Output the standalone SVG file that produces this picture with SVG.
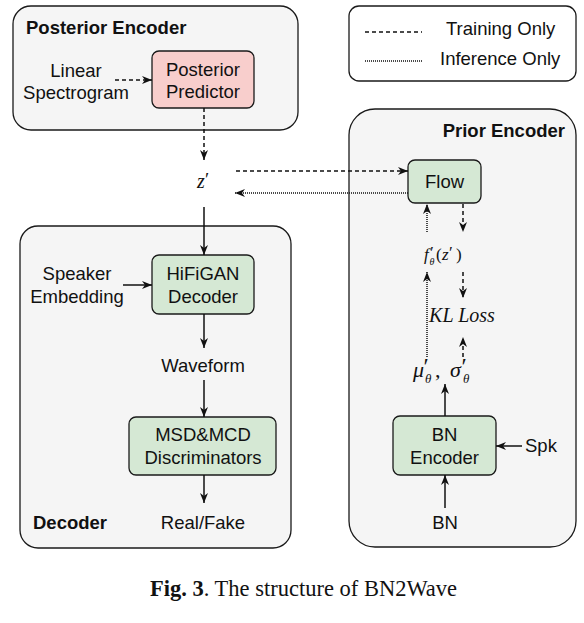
<svg xmlns="http://www.w3.org/2000/svg" width="584" height="623" viewBox="0 0 584 623">
<style>
.cont{fill:#f5f5f5;stroke:#1a1a1a;stroke-width:1.3}
.green{fill:#d5e8d4;stroke:#1a1a1a;stroke-width:1.3}
.pink{fill:#f8cecc;stroke:#1a1a1a;stroke-width:1.3}
.t{font-family:"Liberation Sans",Arial,sans-serif;font-size:18.5px;fill:#111}
.b{font-family:"Liberation Sans",Arial,sans-serif;font-size:18.5px;font-weight:bold;fill:#111}
.m{font-family:"Liberation Serif","Times New Roman",serif;font-style:italic;fill:#111}
.n{font-style:normal}
.c{text-anchor:middle}
.solid{stroke:#111;stroke-width:1.5;fill:none}
.dash{stroke:#111;stroke-width:1.5;fill:none;stroke-dasharray:4 3}
.dot{stroke:#111;stroke-width:1.5;fill:none;stroke-dasharray:1 1}
</style>
<defs>
<marker id="ah" viewBox="0 0 10 10" refX="10" refY="5" markerWidth="10" markerHeight="10" markerUnits="userSpaceOnUse" orient="auto">
<path d="M0,1 L10,5 L0,9 L3,5 Z" fill="#111"/>
</marker>
</defs>

<g id="posterior-encoder">
<rect class="cont" x="13" y="6" width="285" height="124" rx="18"/>
<text class="b" x="26" y="34">Posterior Encoder</text>
</g>
<g id="legend">
<rect x="349" y="6" width="227" height="75" rx="10" fill="#fff" stroke="#1a1a1a" stroke-width="1.3"/>
<line class="dash" x1="365" y1="32" x2="422" y2="32"/>
<line class="dot" x1="365" y1="61" x2="423" y2="61" stroke-width="1.2"/>
<text class="t" x="446" y="35">Training Only</text>
<text class="t" x="440" y="65">Inference Only</text>
</g>
<g id="prior-encoder">
<rect class="cont" x="349" y="109" width="227" height="438" rx="26"/>
<text class="b" x="565" y="137" text-anchor="end">Prior Encoder</text>
</g>
<g id="decoder">
<rect class="cont" x="20" y="226" width="271" height="322" rx="18"/>
<text class="b" x="33" y="529">Decoder</text>
</g>

<g id="linear-spectrogram">
<text class="t c" x="76" y="77">Linear</text>
<text class="t c" x="76" y="99">Spectrogram</text>
</g>
<g id="posterior-predictor">
<rect class="pink" x="152" y="51" width="102" height="57" rx="7"/>
<text class="t c" x="203" y="76">Posterior</text>
<text class="t c" x="203" y="98">Predictor</text>
</g>
<g id="z-prime">
<text class="m" x="197" y="188" font-size="20">z<tspan class="n" x="205" y="186" font-size="19">′</tspan></text>
</g>
<g id="flow">
<rect class="green" x="408" y="160" width="73" height="43" rx="7"/>
<text class="t c" x="444.5" y="188">Flow</text>
</g>
<g id="f-theta">
<text class="m" x="424" y="260" font-size="17">f<tspan class="n" x="430" y="258" font-size="17">′</tspan><tspan x="429.5" y="265" font-size="10">θ</tspan><tspan class="n" x="436" y="260">(</tspan><tspan x="442" y="260">z</tspan><tspan class="n" x="449" y="258">′</tspan><tspan class="n" x="456" y="260">)</tspan></text>
</g>
<g id="kl-loss">
<text class="m c" x="462" y="322" font-size="20">KL Loss</text>
</g>
<g id="mu-sigma">
<text class="m" x="413" y="377" font-size="22">μ<tspan class="n" x="423.5" y="374" font-size="24">′</tspan><tspan x="425" y="383" font-size="13">θ</tspan><tspan class="n" x="435" y="377">,</tspan><tspan x="450" y="377">σ</tspan><tspan class="n" x="461.5" y="374" font-size="24">′</tspan><tspan x="463" y="383" font-size="13">θ</tspan></text>
</g>
<g id="bn-encoder">
<rect class="green" x="393" y="416" width="103" height="59" rx="7"/>
<text class="t c" x="444.5" y="441">BN</text>
<text class="t c" x="444.5" y="464">Encoder</text>
</g>
<g id="spk"><text class="t" x="525" y="452">Spk</text></g>
<g id="bn"><text class="t c" x="445" y="529">BN</text></g>
<g id="speaker-embedding">
<text class="t c" x="77" y="280">Speaker</text>
<text class="t c" x="77" y="303">Embedding</text>
</g>
<g id="hifigan">
<rect class="green" x="152" y="255" width="102" height="59" rx="7"/>
<text class="t c" x="203" y="280">HiFiGAN</text>
<text class="t c" x="203" y="303">Decoder</text>
</g>
<g id="waveform"><text class="t c" x="203" y="372">Waveform</text></g>
<g id="discriminators">
<rect class="green" x="129" y="417" width="147" height="58" rx="7"/>
<text class="t c" x="203" y="441">MSD&amp;MCD</text>
<text class="t c" x="203" y="464">Discriminators</text>
</g>
<g id="real-fake"><text class="t c" x="203" y="529">Real/Fake</text></g>

<g id="connectors">
<line class="dash" x1="115" y1="80" x2="152" y2="80" marker-end="url(#ah)"/>
<line class="dash" x1="204" y1="108" x2="204" y2="160" marker-end="url(#ah)"/>
<line class="dash" x1="236" y1="171" x2="408" y2="171" marker-end="url(#ah)"/>
<line class="dot" x1="408" y1="193" x2="235" y2="193" marker-end="url(#ah)"/>
<line class="solid" x1="204" y1="207" x2="204" y2="255" marker-end="url(#ah)"/>
<line class="solid" x1="123" y1="285" x2="152" y2="285" marker-end="url(#ah)"/>
<line class="solid" x1="204" y1="314" x2="204" y2="348" marker-end="url(#ah)"/>
<line class="solid" x1="204" y1="380" x2="204" y2="417" marker-end="url(#ah)"/>
<line class="solid" x1="204" y1="475" x2="204" y2="503" marker-end="url(#ah)"/>
<line class="dot" x1="427" y1="232" x2="427" y2="204" marker-end="url(#ah)"/>
<line class="dash" x1="463" y1="204" x2="463" y2="232" marker-end="url(#ah)"/>
<line class="dot" x1="427" y1="357" x2="427" y2="272" marker-end="url(#ah)"/>
<line class="dash" x1="463" y1="272" x2="463" y2="298" marker-end="url(#ah)"/>
<line class="dash" x1="463" y1="357" x2="463" y2="337" marker-end="url(#ah)"/>
<line class="solid" x1="445" y1="416" x2="445" y2="384" marker-end="url(#ah)"/>
<line class="solid" x1="522" y1="446" x2="496" y2="446" marker-end="url(#ah)"/>
<line class="solid" x1="445" y1="508" x2="445" y2="475" marker-end="url(#ah)"/>
</g>

<g id="caption">
<text x="150" y="596" font-family="'Liberation Serif','Times New Roman',serif" font-size="22.5" fill="#111"><tspan font-weight="bold">Fig. 3</tspan>. The structure of BN2Wave</text>
</g>
</svg>
